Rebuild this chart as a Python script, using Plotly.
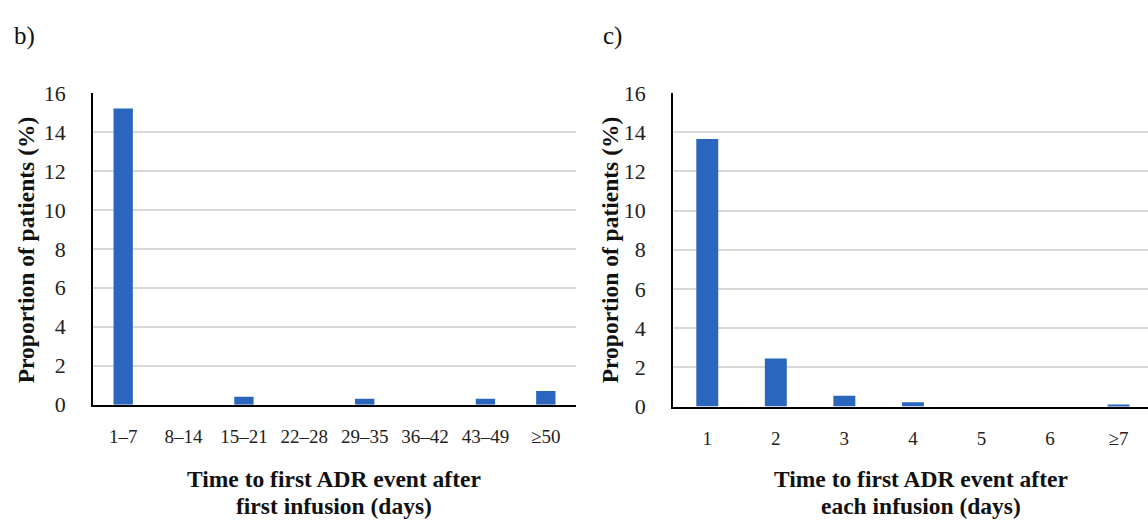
import plotly.graph_objects as go

cats_b = ["1–7", "8–14", "15–21", "22–28", "29–35", "36–42", "43–49", "≥50"]
vals_b = [15.2, 0, 0.4, 0, 0.3, 0, 0.3, 0.7]

cats_c = ["1", "2", "3", "4", "5", "6", "≥7"]
vals_c = [13.65, 2.45, 0.55, 0.22, 0, 0, 0.1]

y_ticks = [0, 2, 4, 6, 8, 10, 12, 14, 16]

title_b = ["Time to first ADR event after", "first infusion (days)"]
title_c = ["Time to first ADR event after", "each infusion (days)"]
y_title = "Proportion of patients (%)"

W, H = 1148, 532
BAR = "#2a66be"
FONT = "Liberation Serif"

fig = go.Figure()
fig.add_trace(go.Bar(x=cats_b, y=vals_b, marker_color=BAR, xaxis="x", yaxis="y",
                     marker_line_width=0, showlegend=False, hoverinfo="skip"))
fig.add_trace(go.Bar(x=cats_c, y=vals_c, marker_color=BAR, xaxis="x2", yaxis="y2",
                     marker_line_width=0, showlegend=False, hoverinfo="skip"))

def px_x(p):
    return p / W

def px_y(p):
    return 1 - p / H

common_x = dict(showline=True, linecolor="black", linewidth=1.5, showgrid=False,
                ticks="outside", ticklen=14, tickcolor="rgba(0,0,0,0)",
                tickfont=dict(family=FONT, size=19, color="#222"), fixedrange=True)
common_y = dict(showline=True, linecolor="black", linewidth=1.5, showgrid=True,
                gridcolor="#d9d9d9", gridwidth=1.5, range=[0, 16], tickvals=y_ticks,
                ticks="outside", ticklen=21, tickcolor="rgba(0,0,0,0)", zeroline=False,
                tickfont=dict(family=FONT, size=22, color="#222"), fixedrange=True)

fig.update_layout(
    width=W, height=H,
    autosize=False,
    margin=dict(l=0, r=0, t=0, b=0, pad=0),
    plot_bgcolor="white", paper_bgcolor="white",
    bargap=0.68,
    xaxis=dict(domain=[px_x(93), px_x(576)], anchor="y", range=[-0.5, 7.5], **common_x),
    yaxis=dict(domain=[px_y(412), px_y(85)], anchor="x", **common_y),
    xaxis2=dict(domain=[px_x(673), 1.0], anchor="y2", range=[-0.5, 6.43], **common_x),
    yaxis2=dict(domain=[px_y(414), px_y(85)], anchor="x2", **common_y),
    font=dict(family=FONT, color="#111"),
)

TF = dict(family=FONT, size=23.5, color="#111")
ann = []
ann.append(dict(text="b)", x=px_x(12), y=px_y(25), xanchor="left", yanchor="middle",
                font=dict(family=FONT, size=25, color="#111")))
ann.append(dict(text="c)", x=px_x(601), y=px_y(25), xanchor="left", yanchor="middle",
                font=dict(family=FONT, size=25, color="#111")))
ann.append(dict(text="<b>" + y_title + "</b>", x=px_x(26), y=px_y(250),
                textangle=-90, xanchor="center", yanchor="middle", font=TF))
ann.append(dict(text="<b>" + y_title + "</b>", x=px_x(610), y=px_y(250),
                textangle=-90, xanchor="center", yanchor="middle", font=TF))
for line, yy in zip(title_b, [490, 518]):
    ann.append(dict(text="<b>" + line + "</b>", x=px_x(334), y=px_y(yy),
                    xanchor="center", yanchor="middle", font=TF))
for line, yy in zip(title_c, [490, 518]):
    ann.append(dict(text="<b>" + line + "</b>", x=px_x(921), y=px_y(yy),
                    xanchor="center", yanchor="middle", font=TF))
for a in ann:
    a.update(xref="paper", yref="paper", showarrow=False)
fig.update_layout(annotations=ann)

post = (
    "document.documentElement.style.margin='0';"
    "document.documentElement.style.overflow='hidden';"
    "document.body.style.margin='0';document.body.style.padding='0';"
    "document.body.style.overflow='hidden';"
    "var d=document.getElementById('{plot_id}');"
    "d.style.position='fixed';d.style.left='0px';d.style.top='0px';"
)
fig.write_html("out.html", config={"displayModeBar": False}, post_script=post)
